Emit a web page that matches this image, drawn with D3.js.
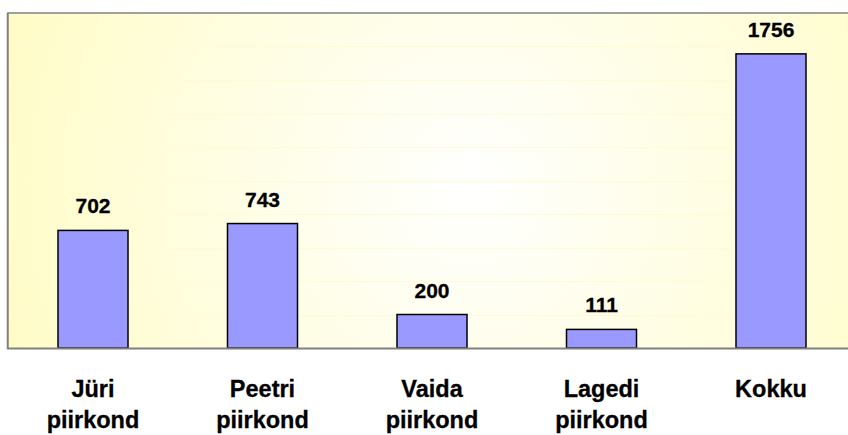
<!DOCTYPE html>
<html>
<head>
<meta charset="utf-8">
<script src="https://cdn.jsdelivr.net/npm/d3@7"></script>
<style>
  body { margin: 0; background: #fff; }
  text { font-family: Arial, "Liberation Sans", sans-serif; font-weight: bold; fill: #000; }
</style>
</head>
<body>
<div id="chart"></div>
<script>
// districts (two-line labels) and their counts
const categories = ["Jüri piirkond", "Peetri piirkond", "Vaida piirkond", "Lagedi piirkond", "Kokku"];
const labelLines = [["Jüri", "piirkond"], ["Peetri", "piirkond"], ["Vaida", "piirkond"], ["Lagedi", "piirkond"], ["Kokku"]];
const values = [702, 743, 200, 111, 1756];
const gridTicks = [200, 400, 600, 800, 1000, 1200, 1400, 1600, 1800];

const width = 848, height = 435;
const plot = { left: 8.25, right: 855.75, top: 13, bottom: 348 };

const svg = d3.select("#chart").append("svg")
  .attr("width", width)
  .attr("height", height);

// soft radial background like the original
const defs = svg.append("defs");
const grad = defs.append("radialGradient")
  .attr("id", "bg")
  .attr("gradientUnits", "userSpaceOnUse")
  .attr("cx", 470).attr("cy", 190).attr("r", 480);
grad.append("stop").attr("offset", "0%").attr("stop-color", "#ffffff");
grad.append("stop").attr("offset", "100%").attr("stop-color", "#fffcc8");

const x = d3.scaleBand()
  .domain(categories)
  .range([plot.left, plot.right])
  .paddingInner(0.587)
  .paddingOuter(0.2935);

const y = d3.scaleLinear()
  .domain([0, 2000])
  .range([plot.bottom, plot.top]);

svg.append("rect")
  .attr("x", plot.left)
  .attr("y", plot.top)
  .attr("width", plot.right - plot.left)
  .attr("height", plot.bottom - plot.top)
  .attr("fill", "url(#bg)");

// faint gridlines
svg.append("g")
  .selectAll("line")
  .data(gridTicks)
  .enter()
  .append("line")
  .attr("x1", plot.left)
  .attr("x2", plot.right)
  .attr("y1", d => Math.round(y(d)) + 0.5)
  .attr("y2", d => Math.round(y(d)) + 0.5)
  .attr("stroke", "#fffcd4")
  .attr("stroke-width", 1);

// frame: top, left, bottom
svg.append("line")
  .attr("x1", plot.left - 1).attr("x2", width)
  .attr("y1", plot.top).attr("y2", plot.top)
  .attr("stroke", "#a0a0a0").attr("stroke-width", 2);
svg.append("line")
  .attr("x1", plot.left - 0.5).attr("x2", plot.left - 0.5)
  .attr("y1", plot.top).attr("y2", plot.bottom + 1)
  .attr("stroke", "#808080").attr("stroke-width", 2);

// bars
svg.append("g")
  .selectAll("rect")
  .data(values)
  .enter()
  .append("rect")
  .attr("x", (d, i) => x(categories[i]))
  .attr("y", d => y(d))
  .attr("width", x.bandwidth())
  .attr("height", d => y(0) - y(d))
  .attr("fill", "#9999ff")
  .attr("stroke", "#000")
  .attr("stroke-width", 1.5);

svg.append("line")
  .attr("x1", plot.left - 1).attr("x2", width)
  .attr("y1", plot.bottom + 0.5).attr("y2", plot.bottom + 0.5)
  .attr("stroke", "#808080").attr("stroke-width", 2);

// value labels
svg.append("g")
  .selectAll("text")
  .data(values)
  .enter()
  .append("text")
  .attr("x", (d, i) => x(categories[i]) + x.bandwidth() / 2)
  .attr("y", d => y(d) - 17)
  .attr("text-anchor", "middle")
  .style("font-size", "21px")
  .style("stroke", "#000")
  .style("stroke-width", "0.3px")
  .text(d => d);

// category labels
const cat = svg.append("g")
  .selectAll("text")
  .data(categories)
  .enter()
  .append("text")
  .attr("x", d => x(d) + x.bandwidth() / 2)
  .attr("y", 397)
  .attr("text-anchor", "middle")
  .style("font-size", "23.5px")
  .style("stroke", "#000")
  .style("stroke-width", "0.3px");

cat.selectAll("tspan")
  .data((d, i) => labelLines[i])
  .enter()
  .append("tspan")
  .attr("x", function () { return this.parentNode.getAttribute("x"); })
  .attr("dy", (d, j) => j === 0 ? 0 : 31)
  .text(d => d);
</script>
</body>
</html>
